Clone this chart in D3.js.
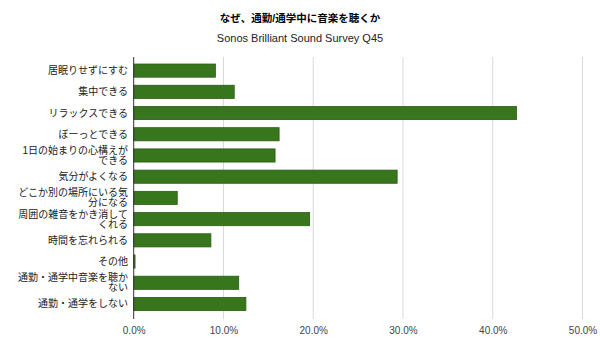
<!DOCTYPE html>
<html><head><meta charset="utf-8">
<script src="https://cdn.jsdelivr.net/npm/d3@7"></script>
<style>body{margin:0;background:#fff;}svg{display:block;}</style>
</head><body>
<svg id="c" width="600" height="351"></svg>
<script>
const categories = ["居眠りせずにすむ","集中できる","リラックスできる","ぼーっとできる","1日の始まりの心構えができる","気分がよくなる","どこか別の場所にいる気分になる","周囲の雑音をかき消してくれる","時間を忘れられる","その他","通勤・通学中音楽を聴かない","通勤・通学をしない"];
const labelLines = [["居眠りせずにすむ"],["集中できる"],["リラックスできる"],["ぼーっとできる"],["1日の始まりの心構えが","できる"],["気分がよくなる"],["どこか別の場所にいる気","分になる"],["周囲の雑音をかき消して","くれる"],["時間を忘れられる"],["その他"],["通勤・通学中音楽を聴か","ない"],["通勤・通学をしない"]];
const values = [9.1,11.2,42.65,16.2,15.75,29.35,4.85,19.6,8.6,0.15,11.7,12.5];
const ticks = [0,10,20,30,40,50];
const title = "なぜ、通勤/通学中に音楽を聴くか";
const subtitle = "Sonos Brilliant Sound Survey Q45";

const svg = d3.select("#c");
const font = "'Liberation Sans', Arial, 'Noto Sans CJK JP', sans-serif";
const x = d3.scaleLinear().domain([0,50]).range([133.7,582.5]);
const y = d3.scaleBand().domain(categories).range([60,314.6]).paddingInner(0.38).paddingOuter(0.19);

svg.append("text").attr("x",300).attr("y",22).attr("text-anchor","middle")
  .attr("font-family",font).attr("font-weight","bold").attr("font-size",10.5).attr("fill","#000").text(title);
svg.append("text").attr("x",300).attr("y",42).attr("text-anchor","middle")
  .attr("font-family",font).attr("font-size",11).attr("fill","#222").text(subtitle);

// gridlines
svg.append("g").selectAll("line").data(ticks.slice(1)).join("line")
  .attr("x1",d=>x(d)).attr("x2",d=>x(d)).attr("y1",57).attr("y2",319)
  .attr("stroke","#d9d9d9").attr("stroke-width",1);

// bars
svg.append("g").selectAll("rect").data(values).join("rect")
  .attr("x",x(0)).attr("y",(d,i)=>y(categories[i]))
  .attr("width",d=>x(d)-x(0)).attr("height",y.bandwidth())
  .attr("fill","#38761d").attr("stroke","#2a5c14").attr("stroke-width",0.8);

// y axis line
svg.append("line").attr("x1",x(0)).attr("x2",x(0)).attr("y1",57).attr("y2",319)
  .attr("stroke","#333").attr("stroke-width",1);

// x axis labels
const xAxis = d3.axisBottom(x).tickValues(ticks).tickSize(0).tickPadding(0).tickFormat(d=>d.toFixed(1)+"%");
const gx = svg.append("g").attr("transform","translate(0,327)").call(xAxis);
gx.select(".domain").remove();
gx.selectAll("text").attr("font-family",font).attr("font-size",10).attr("fill","#444");

// category labels
const gl = svg.append("g");
labelLines.forEach((lines,i)=>{
  const cy = y(categories[i]) + y.bandwidth()/2;
  const lh = 10;
  const t = gl.append("text").attr("text-anchor","end").attr("font-family",font)
    .attr("font-size",10).attr("fill","#222");
  lines.forEach((ln,j)=>{
    t.append("tspan").attr("x",128).attr("y", cy + (j-(lines.length-1)/2)*lh).attr("dy","0.35em").text(ln);
  });
});
</script>
</body></html>
